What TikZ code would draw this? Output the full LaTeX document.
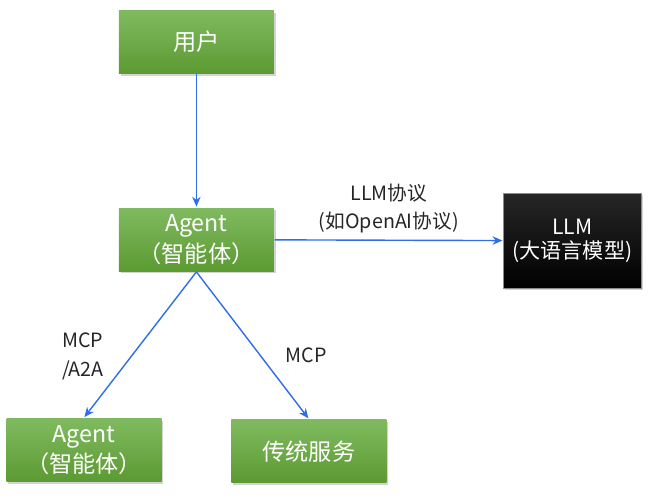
\documentclass[tikz,border=0pt]{standalone}
\usepackage{fontspec}
\setmainfont{Noto Sans CJK SC}
\usepackage{tikz}
\usetikzlibrary{calc}
\usetikzlibrary{shadows}
\usetikzlibrary{positioning}
\usetikzlibrary{arrows.meta}
\definecolor{greentop}{RGB}{128,186,96}
\definecolor{greenbot}{RGB}{92,154,50}
\definecolor{linkblue}{RGB}{47,110,235}

\begin{document}
\begin{tikzpicture}[->,>={Stealth[length=7pt,width=6pt]},shorten >=0.5pt,auto,
	  line width=1pt,
	  green node/.style={rectangle,minimum width=3.875cm,minimum height=1.58cm,
	    top color=greentop,bottom color=greenbot,draw=none,text=white,
	    align=center,font=\fontsize{16.5}{23.5}\selectfont,
	    drop shadow={opacity=0.35,shadow xshift=1.2pt,shadow yshift=-1.5pt}},
	  black node/.style={rectangle,minimum width=3.45cm,minimum height=2.375cm,
	    top color=black!85,bottom color=black,draw=black!45,line width=0.4pt,text=white,
	    align=center,font=\fontsize{15}{19.5}\selectfont,
	    drop shadow={opacity=0.35,shadow xshift=1.2pt,shadow yshift=-1.5pt}}]

	  \useasboundingbox (0,0) rectangle (16.6,-12.5);

	  \node[green node] (user) at (4.91,-1.05) {用户};
	  \node[green node] (agent) at ($ (user) + (0,-4.94) $) {\raisebox{-2pt}{Agent}\\（智能体）};
	  \node[black node] (llm) at ($ (agent) + (9.4,-0.03) $) {\raisebox{-3pt}{LLM}\\(大语言模型)};
	  \node[green node] (subagent) at ($ (agent) + (-2.81,-5.26) $) {\raisebox{-2pt}{Agent}\\（智能体）};
	  \node[green node] (service) at ($ (agent) + (2.81,-5.29) $) {传统服务};

	  \path[linkblue,every node/.style={font=\fontsize{14}{20}\selectfont,text=black!85}]
	    (user)	edge	node [right]	{} (agent)
	    (agent)	edge	node [above=1pt,align=center]	{LLM协议\\(如OpenAI协议)} (llm)
	    (agent.south)	edge	node [pos=0.58,left=0.55cm,align=left]	{MCP\\/A2A} (subagent.north)
	    (agent.south)	edge	node [pos=0.57,right=0.5cm]	{MCP} (service.north);
	\end{tikzpicture}
\end{document}
